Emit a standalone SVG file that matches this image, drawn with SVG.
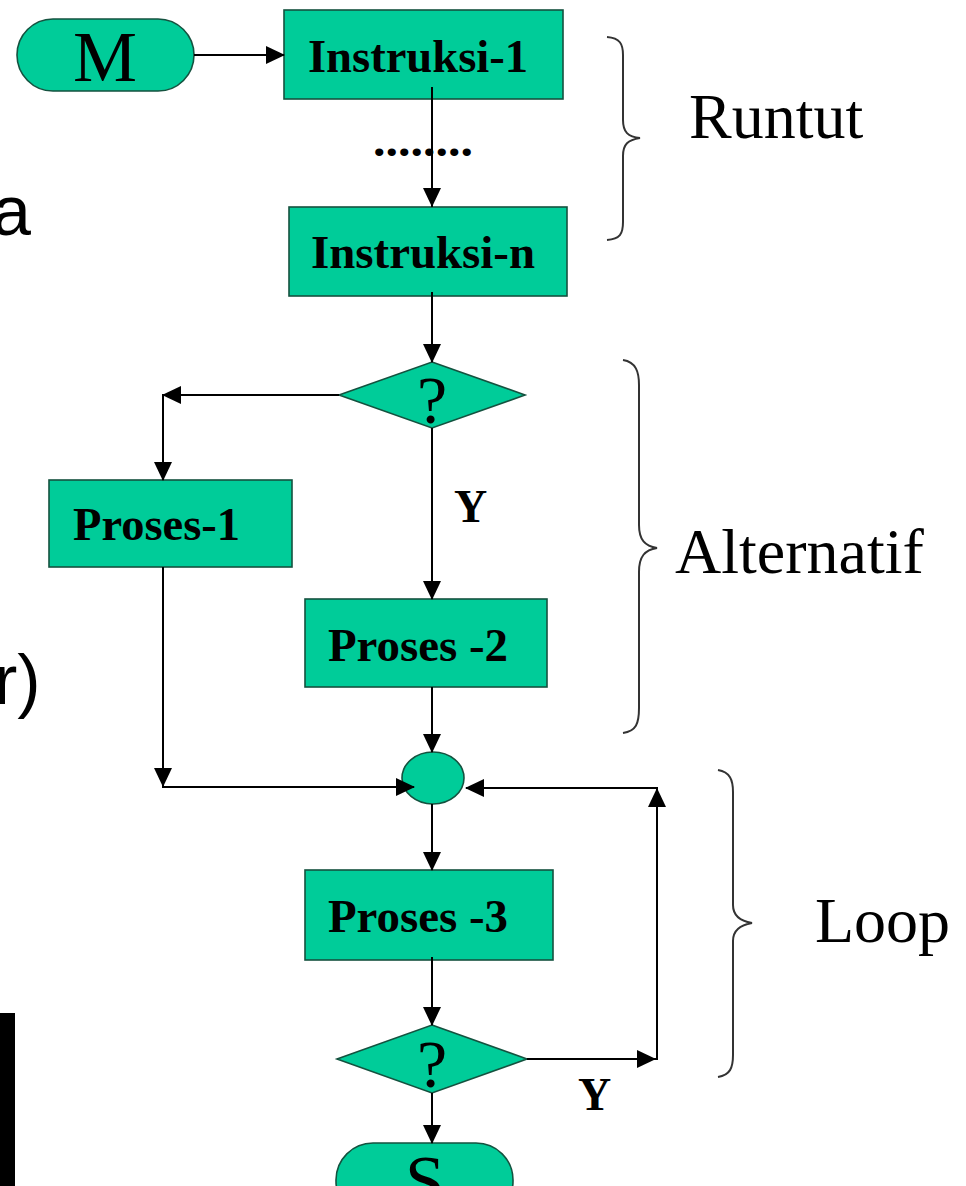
<svg xmlns="http://www.w3.org/2000/svg" xmlns:xlink="http://www.w3.org/1999/xlink" width="966" height="1186" viewBox="0 0 966 1186">
<style>
.shape{fill:#00CC99;stroke:#14523f;stroke-width:1.6}
.lbl{font-family:"Liberation Serif","Times New Roman",serif;font-weight:bold;font-size:46px;fill:#000}
.big{font-family:"Liberation Serif","Times New Roman",serif;font-size:72px;fill:#000}
.q{font-family:"Liberation Serif","Times New Roman",serif;font-size:68px;fill:#000}
.side{font-family:"Liberation Serif","Times New Roman",serif;font-size:64px;fill:#000}
.edge{font-family:"Liberation Sans",Arial,sans-serif;font-size:70px;fill:#000}
.ln{fill:none;stroke:#000;stroke-width:2}
.br{fill:none;stroke:#333;stroke-width:2}
.ah{fill:#000}
</style>
<defs>
<path id="ah" d="M0,0 L-19,-9 L-19,9 Z"/>
</defs>
<rect width="966" height="1186" fill="#fff"/>

<g id="left-edge">
<text class="edge" x="-8" y="235">a</text>
<text class="edge" x="-6" y="704">r)</text>
<rect x="0" y="1013" width="15" height="173" fill="#000"/>
</g>

<g id="node-M">
<rect class="shape" x="17" y="19" width="177" height="72" rx="36" ry="36"/>
<text class="big" x="105" y="81" text-anchor="middle">M</text>
</g>
<g id="node-instruksi-1">
<rect class="shape" x="284" y="10" width="279" height="89"/>
<text class="lbl" x="308" y="72" textLength="220" lengthAdjust="spacingAndGlyphs">Instruksi-1</text>
</g>
<g id="node-instruksi-n">
<rect class="shape" x="289" y="207" width="278" height="89"/>
<text class="lbl" x="311" y="268" textLength="224" lengthAdjust="spacingAndGlyphs">Instruksi-n</text>
</g>
<g id="node-decision-1">
<polygon class="shape" points="432,362 525,395 432,428 339,395"/>
<text class="q" x="432" y="423" text-anchor="middle">?</text>
</g>
<g id="node-proses-1">
<rect class="shape" x="49" y="480" width="243" height="87"/>
<text class="lbl" x="73" y="540" textLength="167" lengthAdjust="spacingAndGlyphs">Proses-1</text>
</g>
<g id="node-proses-2">
<rect class="shape" x="305" y="599" width="242" height="88"/>
<text class="lbl" x="328" y="661" textLength="180" lengthAdjust="spacingAndGlyphs">Proses -2</text>
</g>
<g id="node-junction">
<ellipse class="shape" cx="433" cy="778" rx="31" ry="26"/>
</g>
<g id="node-proses-3">
<rect class="shape" x="305" y="870" width="248" height="90"/>
<text class="lbl" x="328" y="932" textLength="180" lengthAdjust="spacingAndGlyphs">Proses -3</text>
</g>
<g id="node-decision-2">
<polygon class="shape" points="432,1025 527,1059 432,1093 337,1059"/>
<text class="q" x="432" y="1087" text-anchor="middle">?</text>
</g>
<g id="node-S">
<rect class="shape" x="336" y="1143" width="177" height="75" rx="37" ry="37"/>
<text class="big" x="425" y="1205" text-anchor="middle">S</text>
</g>

<g id="connectors">
<path class="ln" d="M194,55 H284"/>
<use xlink:href="#ah" href="#ah" class="ah" transform="translate(285,55)"/>

<path class="ln" d="M432,87 V207"/>
<use xlink:href="#ah" href="#ah" class="ah" transform="translate(432,207) rotate(90)"/>
<text class="lbl" x="373" y="156" textLength="100" lengthAdjust="spacingAndGlyphs">........</text>

<path class="ln" d="M432,292 V362"/>
<use xlink:href="#ah" href="#ah" class="ah" transform="translate(432,363) rotate(90)"/>

<path class="ln" d="M339,395 H163 V480"/>
<use xlink:href="#ah" href="#ah" class="ah" transform="translate(162,395) rotate(180)"/>
<use xlink:href="#ah" href="#ah" class="ah" transform="translate(163,481) rotate(90)"/>

<path class="ln" d="M432,428 V599"/>
<use xlink:href="#ah" href="#ah" class="ah" transform="translate(432,600) rotate(90)"/>
<text class="lbl" x="454" y="522">Y</text>

<path class="ln" d="M432,687 V752"/>
<use xlink:href="#ah" href="#ah" class="ah" transform="translate(432,753) rotate(90)"/>

<path class="ln" d="M163,567 V787 H414"/>
<use xlink:href="#ah" href="#ah" class="ah" transform="translate(163,787) rotate(90)"/>
<use xlink:href="#ah" href="#ah" class="ah" transform="translate(415,787)"/>

<path class="ln" d="M432,804 V870"/>
<use xlink:href="#ah" href="#ah" class="ah" transform="translate(432,871) rotate(90)"/>

<path class="ln" d="M432,957 V1025"/>
<use xlink:href="#ah" href="#ah" class="ah" transform="translate(432,1026) rotate(90)"/>

<path class="ln" d="M432,1093 V1143"/>
<use xlink:href="#ah" href="#ah" class="ah" transform="translate(432,1144) rotate(90)"/>

<path class="ln" d="M527,1059 H657 V788 H466"/>
<use xlink:href="#ah" href="#ah" class="ah" transform="translate(656,1059)"/>
<use xlink:href="#ah" href="#ah" class="ah" transform="translate(657,788) rotate(-90)"/>
<use xlink:href="#ah" href="#ah" class="ah" transform="translate(465,788) rotate(180)"/>
<text class="lbl" x="578" y="1110">Y</text>
</g>

<g id="brace-runtut">
<path class="br" d="M607,37 C620,38 623,44 623,55 V120 C623,132 628,137 640,138 C628,140 623,144 623,156 V222 C623,234 620,239 607,240"/>
<text class="side" x="689" y="138">Runtut</text>
</g>
<g id="brace-alternatif">
<path class="br" d="M623,360 C636,362 639,372 639,385 V525 C639,540 645,546 657,548 C645,550 639,556 639,572 V708 C639,724 636,731 623,733"/>
<text class="side" x="675" y="573">Alternatif</text>
</g>
<g id="brace-loop">
<path class="br" d="M718,770 C730,772 733,780 733,792 V905 C733,916 740,921 752,923 C740,925 733,930 733,941 V1055 C733,1068 730,1075 718,1077"/>
<text class="side" x="815" y="942">Loop</text>
</g>
</svg>
